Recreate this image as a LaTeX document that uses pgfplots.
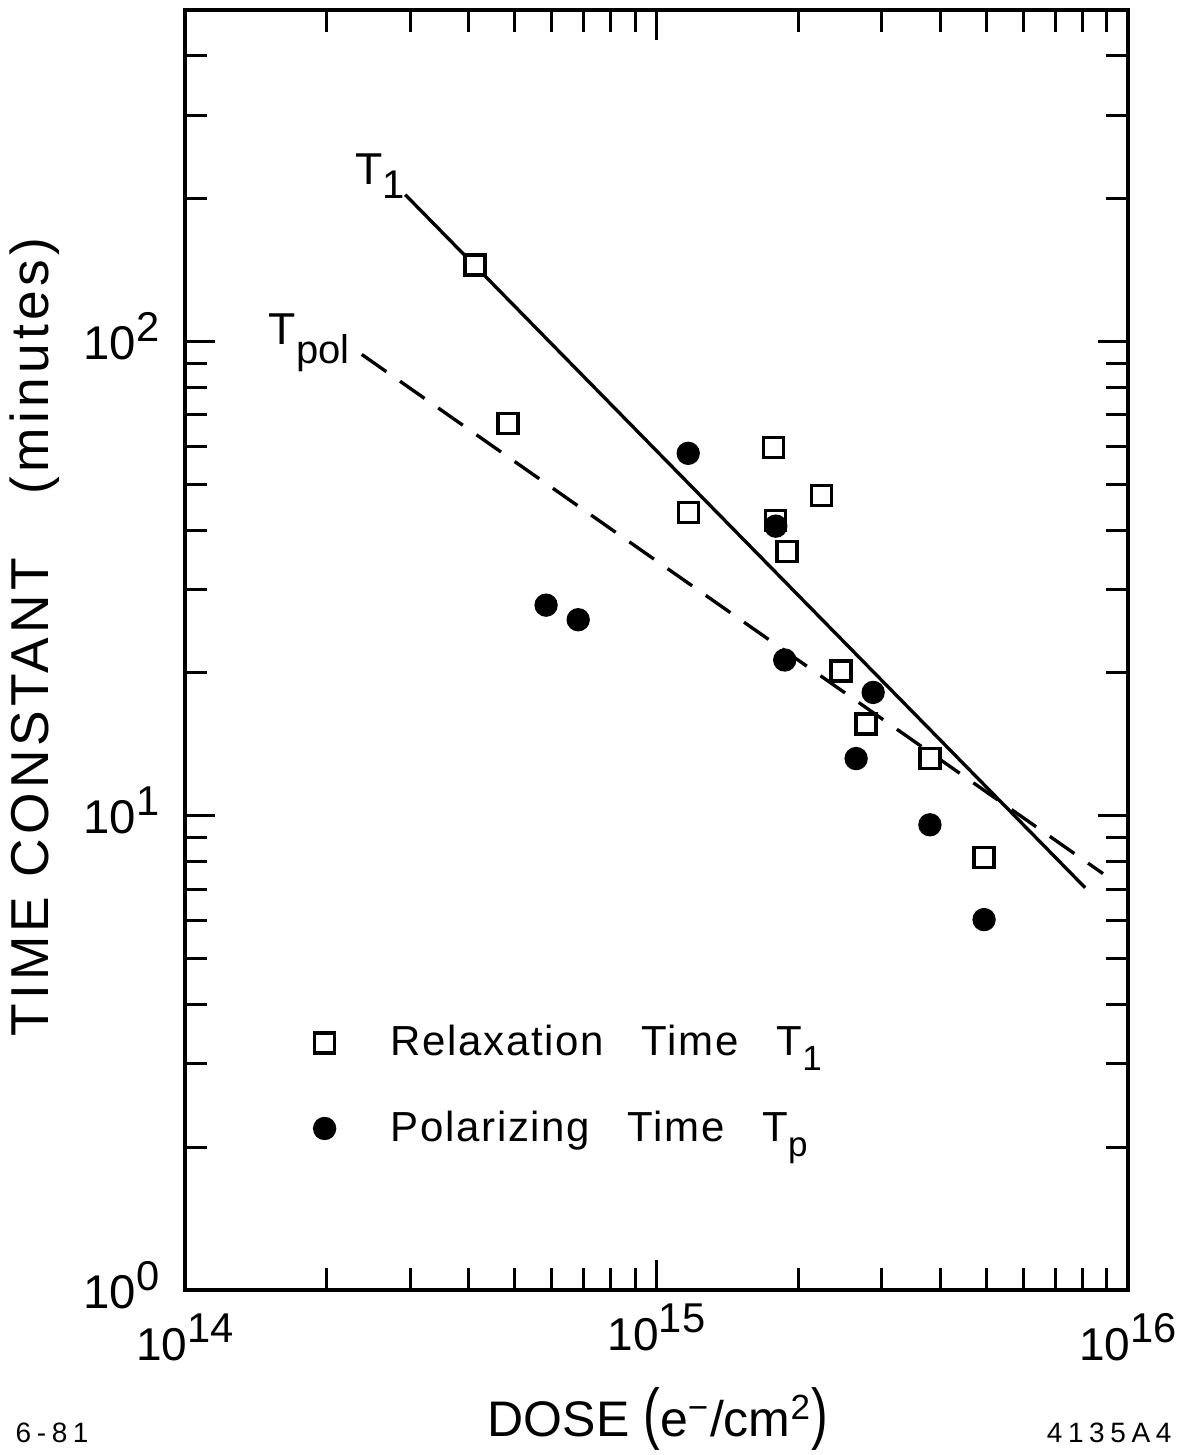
\documentclass[border=0pt]{standalone}
\usepackage{fontspec}
\setmainfont{Liberation Sans}
\usepackage{pgfplots}
\pgfplotsset{compat=1.18}
\newcommand{\tp}[1]{10\raisebox{5.4pt}{\fontsize{12.5}{12.5}\selectfont #1}}
\newcommand{\sub}[1]{\raisebox{-4.5pt}{\fontsize{10.5}{10.5}\selectfont #1}}
\newcommand{\lsub}[2]{\raisebox{#1}{\fontsize{12}{12}\selectfont #2}}
\begin{document}
\begin{tikzpicture}
\useasboundingbox (-55.5pt,-49.5pt) rectangle (300pt,387pt);
\begin{axis}[
  scale only axis, width=282.9pt, height=384pt,
  xmode=log, ymode=log,
  xmin=1e14, xmax=1e16, ymin=1, ymax=500,
  clip=false,
  axis line style={line width=1.2pt},
  tick style={line width=0.9pt, black},
  major tick length=9pt, minor tick length=6.6pt,
  tick align=inside,
  xtick={1e14,1e15,1e16}, xticklabels={\tp{14},\raisebox{3pt}{\tp{15}},\tp{16}},
  ytick={1,10,100}, yticklabels={\tp{0},\tp{1},\tp{2}},
  minor xtick={2e14,3e14,4e14,5e14,6e14,7e14,8e14,9e14,2e15,3e15,4e15,5e15,6e15,7e15,8e15,9e15},
  minor ytick={2,3,4,5,6,7,8,9,20,30,40,50,60,70,80,90,200,300,400},
  xticklabel style={font=\fontsize{13.8}{14}\selectfont, anchor=base, yshift=-21pt, inner sep=0pt},
  yticklabel style={font=\fontsize{14.2}{14}\selectfont, anchor=base east, xshift=-7.5pt, yshift=-5.4pt, inner sep=0pt},
  legend style={at={(axis description cs:0.1356,0.2125)}, anchor=north west, draw=none, fill=none,
    inner sep=0pt, font=\fontsize{12.6}{13}\selectfont\addfontfeatures{LetterSpace=4}, row sep=11pt},
  legend cell align=left,
]
\addplot[line width=1pt, forget plot] coordinates {(2.93e14,204) (8.11e15,7.05)};
\addplot[line width=1pt, dash pattern=on 9pt off 5pt, forget plot] coordinates {(2.37e14,93.9) (8.85e15,7.55)};
\addplot[only marks, mark=square*, mark size=3pt, mark options={fill=white, draw=black, line width=1pt}] coordinates {
  (4.12e14,145) (4.84e14,67.2) (1.167e15,43.6) (1.77e15,59.8) (1.79e15,42)
  (1.89e15,36.1) (2.24e15,47.4) (2.46e15,20.2) (2.78e15,15.6) (3.80e15,13.2) (4.95e15,8.16)
};
\addlegendentry{\hspace*{14.5pt}Relaxation\hspace{0.9em}Time\hspace{0.9em}T\sub{1}}
\addplot[only marks, mark=*, mark size=3.3pt, mark options={fill=black, draw=black}] coordinates {
  (1.167e15,58.1) (5.83e14,27.8) (6.82e14,25.9) (1.79e15,40.8) (1.87e15,21.3)
  (2.88e15,18.2) (2.65e15,13.2) (3.80e15,9.57) (4.95e15,6.04)
};
\addlegendentry{\hspace*{14.5pt}Polarizing\hspace{0.9em}Time\hspace{0.9em}T\sub{p}}
\node[anchor=base west, inner sep=0pt, font=\fontsize{13.4}{14}\selectfont] at (axis cs:2.29e14,214) {T\lsub{-4.2pt}{1}};
\node[anchor=base west, inner sep=0pt, font=\fontsize{13.4}{14}\selectfont] at (axis cs:1.5e14,98.6) {T\lsub{-5.7pt}{pol}};
\node[rotate=90, anchor=base, inner sep=0pt, font=\fontsize{16}{16}\selectfont\addfontfeatures{LetterSpace=8}] at (axis description cs:-0.145,0.510) {TIME CONSTANT\hspace{1.2em}(minutes)};
\node[anchor=base, inner sep=0pt, font=\fontsize{15}{16}\selectfont] at (axis description cs:0.5016,-0.1148) {DOSE \scalebox{1}[1.35]{(}e\textsuperscript{−}/cm\textsuperscript{2}\scalebox{1}[1.35]{)}};
\node[anchor=base west, inner sep=0pt, font=\fontsize{8.4}{9}\selectfont\addfontfeatures{LetterSpace=20}] at (axis description cs:-0.1803,-0.1195) {6-81};
\node[anchor=base east, inner sep=0pt, font=\fontsize{8.4}{9}\selectfont\addfontfeatures{LetterSpace=20}] at (axis description cs:1.0467,-0.1195) {4135A4};
\end{axis}
\end{tikzpicture}
\end{document}
